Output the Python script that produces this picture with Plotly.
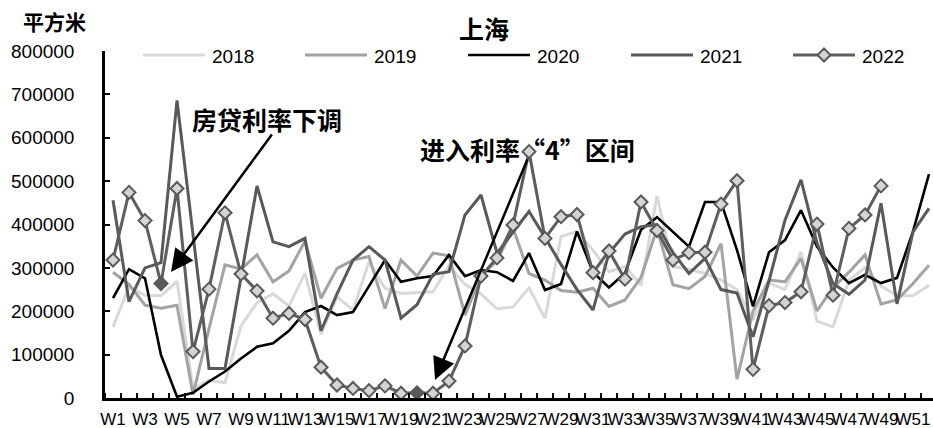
import plotly.graph_objects as go

# ---- data: weekly transaction area, Shanghai (square metres) ----
weeks = [f"W{i}" for i in range(1, 53)]
tick_labels = [f"W{i}" for i in range(1, 53, 2)]
years = ["2018", "2019", "2020", "2021", "2022"]

y2018 = [164000, 256000, 237000, 236000, 269000, 22000, 41000, 35000, 166000, 220000,
         240000, 212000, 288000, 147000, 233000, 203000, 314000, 253000, 241000, 243000,
         245000, 305000, 262000, 240000, 206000, 210000, 254000, 184000, 372000, 384000,
         341000, 291000, 303000, 260000, 466000, 303000, 297000, 287000, 272000, 250000,
         180000, 265000, 250000, 337000, 177000, 164000, 272000, 300000, 258000, 236000,
         236000, 260000]
y2019 = [290000, 262000, 214000, 207000, 214000, 8000, 160000, 307000, 297000, 330000,
         268000, 293000, 362000, 230000, 299000, 318000, 326000, 206000, 318000, 281000,
         334000, 328000, 191000, 282000, 316000, 392000, 287000, 272000, 248000, 244000,
         253000, 211000, 226000, 278000, 390000, 261000, 252000, 280000, 356000, 43000,
         200000, 272000, 268000, 322000, 201000, 255000, 290000, 330000, 217000, 226000,
         264000, 306000]
y2020 = [230000, 297000, 276000, 99000, 3000, 12000, 38000, 61000, 91000, 118000,
         126000, 155000, 198000, 212000, 191000, 198000, 258000, 318000, 268000, 276000,
         281000, 330000, 281000, 295000, 290000, 270000, 334000, 249000, 263000, 384000,
         290000, 255000, 288000, 388000, 417000, 382000, 349000, 452000, 452000, 341000,
         211000, 336000, 364000, 433000, 349000, 301000, 265000, 284000, 265000, 277000,
         384000, 516000]
y2021 = [456000, 222000, 300000, 312000, 686000, 375000, 68000, 68000, 280000, 489000,
         360000, 349000, 368000, 155000, 240000, 318000, 349000, 318000, 184000, 215000,
         285000, 291000, 422000, 468000, 334000, 382000, 430000, 370000, 308000, 250000,
         203000, 334000, 378000, 395000, 400000, 335000, 287000, 322000, 250000, 242000,
         141000, 270000, 410000, 503000, 357000, 264000, 239000, 272000, 449000, 217000,
         383000, 437000]
y2022 = [318000, 474000, 409000, 264000, 483000, 107000, 251000, 427000, 286000, 247000,
         184000, 195000, 181000, 71000, 30000, 22000, 17000, 28000, 11000, 12000,
         11000, 39000, 120000, 281000, 323000, 399000, 568000, 368000, 418000, 423000,
         289000, 339000, 274000, 452000, 386000, 318000, 335000, 336000, 447000, 501000,
         66000, 213000, 220000, 245000, 401000, 237000, 391000, 422000, 489000]
# weeks of 2022 that are called out in the notes
highlight_2022 = ["W4", "W20"]

series = {"2018": y2018, "2019": y2019, "2020": y2020, "2021": y2021, "2022": y2022}
colors = {"2018": "#d9d9d9", "2019": "#a3a3a3", "2020": "#000000",
          "2021": "#595959", "2022": "#5e5e5e"}
widths = {"2018": 3, "2019": 3, "2020": 2.6, "2021": 3, "2022": 3}

# ---- page geometry ----
W, H = 933, 428
ML, MT, MB = 105, 51, 30
PW, PH = W - ML, H - MT - MB
X_MIN, X_MAX = -0.5, 51.25
Y_MAX = 800000


def paper(px, py):
    return (px - ML) / PW, (H - MB - py) / PH


def data(px, py):
    return (X_MIN + (px - ML) / PW * (X_MAX - X_MIN),
            (H - MB - py) / PH * Y_MAX)


NUM_FONT = "Liberation Sans, Arial, sans-serif"
CJK_FONT = "Noto Sans CJK SC, sans-serif"

fig = go.Figure()
for yr in years:
    vals = series[yr]
    xs = list(range(len(vals)))
    tr = dict(x=xs, y=vals, mode="lines", name=yr, showlegend=False,
              line=dict(color=colors[yr], width=widths[yr]),
              text=weeks[:len(vals)], hovertemplate="%{text}: %{y}<extra>" + yr + "</extra>")
    if yr == "2022":
        fills = ["#595959" if w in highlight_2022 else "#d4d4d4" for w in weeks[:len(vals)]]
        tr.update(mode="lines+markers",
                  marker=dict(symbol="diamond", size=10, color=fills,
                              line=dict(color="#595959", width=2)))
    fig.add_trace(go.Scatter(**tr))

shapes = []
annotations = []

# legend row
legend_x = {"2018": 143, "2019": 305, "2020": 468, "2021": 631, "2022": 793}
LEG_Y = 55
for yr in years:
    x0, y0 = paper(legend_x[yr], LEG_Y)
    x1, _ = paper(legend_x[yr] + 62, LEG_Y)
    shapes.append(dict(type="line", xref="paper", yref="paper", x0=x0, x1=x1, y0=y0, y1=y0,
                       line=dict(color=colors[yr], width=widths[yr])))
    tx, ty = paper(legend_x[yr] + 67, LEG_Y + 1)
    annotations.append(dict(text=yr, xref="paper", yref="paper", x=tx, y=ty,
                            xanchor="left", yanchor="middle", showarrow=False,
                            font=dict(family=NUM_FONT, size=19, color="#000")))
# diamond on the 2022 legend line
cx, cy = legend_x["2022"] + 31, LEG_Y
r = 6.5
pts = [paper(cx, cy - r), paper(cx + r, cy), paper(cx, cy + r), paper(cx - r, cy)]
path = "M" + " L".join(f"{p[0]:.5f},{p[1]:.5f}" for p in pts) + " Z"
shapes.append(dict(type="path", xref="paper", yref="paper", path=path,
                   fillcolor="#d4d4d4", line=dict(color="#595959", width=2)))

# title and unit label
tx, ty = paper(484, 28)
annotations.append(dict(text="<b>上海</b>", xref="paper", yref="paper", x=tx, y=ty,
                        xanchor="center", yanchor="middle", showarrow=False,
                        font=dict(family=CJK_FONT, size=25, color="#000")))
tx, ty = paper(54, 21)
annotations.append(dict(text="<b>平方米</b>", xref="paper", yref="paper", x=tx, y=ty,
                        xanchor="center", yanchor="middle", showarrow=False,
                        font=dict(family=CJK_FONT, size=21, color="#000")))

# callouts
tx, ty = paper(267, 119)
annotations.append(dict(text="<b>房贷利率下调</b>", xref="paper", yref="paper", x=tx, y=ty,
                        xanchor="center", yanchor="middle", showarrow=False,
                        font=dict(family=CJK_FONT, size=25, color="#000")))
tx, ty = paper(527, 149)
annotations.append(dict(text="<b>进入利率“4”区间</b>", xref="paper", yref="paper", x=tx, y=ty,
                        xanchor="center", yanchor="middle", showarrow=False,
                        font=dict(family=CJK_FONT, size=25, color="#000")))

for tip, tail in [((171, 272), (273, 133)), ((435, 380), (528, 158))]:
    ax_, ay_ = data(*tip)
    annotations.append(dict(text="", x=ax_, y=ay_, xref="x", yref="y",
                            ax=tail[0] - tip[0], ay=tail[1] - tip[1],
                            showarrow=True, arrowhead=2, arrowsize=1.8, arrowwidth=2.5,
                            arrowcolor="#000", standoff=0))

fig.update_layout(
    width=W, height=H,
    margin=dict(l=ML, r=0, t=MT, b=MB, pad=0, autoexpand=False),
    paper_bgcolor="white", plot_bgcolor="white",
    showlegend=False,
    shapes=shapes, annotations=annotations,
    xaxis=dict(range=[X_MIN, X_MAX], tickmode="array",
               tickvals=list(range(0, 52, 2)), ticktext=tick_labels,
               ticks="", tickangle=0, showgrid=False, zeroline=False, automargin=False,
               showline=True, linecolor="#000", linewidth=2.5,
               tickfont=dict(family=NUM_FONT, size=17, color="#000"),
               ticklabelstandoff=4,
               minor=dict(tickmode="linear", tick0=-0.5, dtick=1, ticks="inside",
                          ticklen=5, tickwidth=2, tickcolor="#000", showgrid=False)),
    yaxis=dict(range=[0, Y_MAX], dtick=100000, tickformat="d", automargin=False,
               ticks="inside", ticklen=5, tickwidth=2, tickcolor="#000",
               showgrid=False, zeroline=False,
               showline=True, linecolor="#000", linewidth=2.5,
               tickfont=dict(family=NUM_FONT, size=19, color="#000"),
               ticklabelstandoff=24),
)

fig.write_html("out.html")
